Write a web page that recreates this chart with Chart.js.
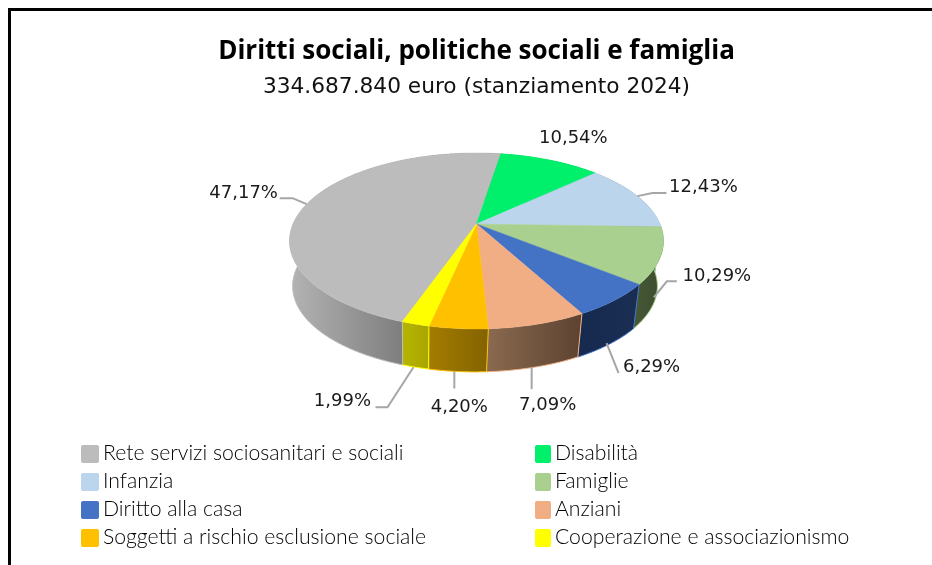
<!DOCTYPE html>
<html>
<head>
<meta charset="utf-8">
<script src="https://cdn.jsdelivr.net/npm/chart.js@4/dist/chart.umd.min.js"></script>
<style>
  html, body { margin: 0; padding: 0; background: #fff; overflow: hidden; }
  #wrap { position: relative; width: 932px; height: 565px; }
  #frame { position: absolute; left: 8px; top: 8px; right: -5px; bottom: -5px; border-left: 3px solid #000; border-top: 3px solid #000; }
  #pie-canvas { position: absolute; left: 0; top: 0; }
  #legend { position: absolute; left: 0; top: 0; font: 300 21.2px Lato, sans-serif; color: #000; }
  .item { position: absolute; white-space: nowrap; height: 18px; line-height: 14px; }
  .item i { position: absolute; left: 0; top: 0; height: 18px; border-radius: 2px; }
  .item span { position: absolute; top: 0; }
</style>
</head>
<body>
<div id="wrap">
  <div id="frame"></div>
  <canvas id="pie-canvas" width="932" height="565"></canvas>
  <div id="legend"></div>
</div>
<script>
var categories = ["Rete servizi sociosanitari e sociali", "Disabilità", "Infanzia", "Famiglie",
                  "Diritto alla casa", "Anziani", "Soggetti a rischio esclusione sociale", "Cooperazione e associazionismo"];
var shares = [47.17, 10.54, 12.43, 10.29, 6.29, 7.09, 4.20, 1.99];

var topColors = ["#BCBCBC", "#00F06C", "#BBD5EC", "#A9D08E", "#4472C4", "#F1AE84", "#FFC000", "#FFFF00"];
var wallLeft  = ["#B2B2B2", "#009040", "#708090", "#465836", "#16294E", "#8A6A50", "#A47C00", "#B6B400"];
var wallRight = ["#7E7E7E", "#009040", "#708090", "#3E4F30", "#1A2E54", "#5E4431", "#846400", "#A8A600"];

// slice label placement, relative to the rim point of each slice
var labelOffsets = [[-63,-11], [23,-22], [66,-9], [62,-24], [42,23], [13,38], [2,36], [-73,34]];
var leaderPaths = [
  [[0,0],[-14,-6],[-27,-6]],
  null,
  [[0,0],[15,-3],[29,-3]],
  [[-1,-3],[12,-19],[22,-19]],
  [[-3,-1],[9,29]],
  [[-3,0],[-3,22]],
  [[-3,0],[-3,17]],
  [[-2,0],[-28,40],[-40,40]]
];

// perspective of the tilted disc
var persp = 0.193, scaleX = 1.489, scaleY = 0.687, baseShrink = 0.975, baseDrop = 45.6, baseShift = -1.5;

function project(arc, angle, isBase) {
  var u = Math.cos(angle), v = Math.sin(angle), w = 1 / (1 - persp * v);
  var k = isBase ? baseShrink : 1;
  return {
    x: arc.x + (isBase ? baseShift : 0) + arc.outerRadius * scaleX * k * u * w,
    y: arc.y + (isBase ? baseDrop : 0) + arc.outerRadius * scaleY * k * v * w
  };
}

function rimPoints(arc, isBase) {
  var pts = [], n = Math.max(2, Math.ceil((arc.endAngle - arc.startAngle) / 0.01));
  for (var i = 0; i <= n; i++) {
    pts.push(project(arc, arc.startAngle + (arc.endAngle - arc.startAngle) * i / n, isBase));
  }
  return pts;
}

var pie3d = {
  id: "pie3d",
  beforeDatasetsDraw: function(chart) {
    var ctx = chart.ctx, arcs = chart.getDatasetMeta(0).data;
    ctx.save();
    // side wall first, the top face covers what is behind
    arcs.forEach(function(arc, i) {
      var topRim = rimPoints(arc, false), baseRim = rimPoints(arc, true);
      var seen = baseRim.filter(function(p) { return p.y > arc.y + baseDrop + 10; });
      var xs = (seen.length ? seen : baseRim).map(function(p) { return p.x; });
      var grad = ctx.createLinearGradient(Math.min.apply(null, xs), 0, Math.max.apply(null, xs), 0);
      grad.addColorStop(0, wallLeft[i]);
      grad.addColorStop(1, wallRight[i]);
      ctx.beginPath();
      topRim.forEach(function(p, j) { j ? ctx.lineTo(p.x, p.y) : ctx.moveTo(p.x, p.y); });
      baseRim.reverse().forEach(function(p) { ctx.lineTo(p.x, p.y); });
      ctx.closePath();
      ctx.fillStyle = grad;
      ctx.fill();
    });
    arcs.forEach(function(arc, i) {
      var baseRim = rimPoints(arc, true), s = project(arc, arc.startAngle, false), b = baseRim[0];
      ctx.strokeStyle = topColors[i];
      ctx.lineWidth = 1;
      ctx.beginPath();
      ctx.moveTo(s.x, s.y);
      ctx.lineTo(b.x, b.y);
      baseRim.forEach(function(p) { ctx.lineTo(p.x, p.y); });
      ctx.stroke();
    });
    arcs.forEach(function(arc, i) {
      ctx.beginPath();
      ctx.moveTo(arc.x, arc.y);
      rimPoints(arc, false).forEach(function(p) { ctx.lineTo(p.x, p.y); });
      ctx.closePath();
      ctx.fillStyle = topColors[i];
      ctx.strokeStyle = topColors[i];
      ctx.lineWidth = 0.5;
      ctx.fill();
      ctx.stroke();
    });
    ctx.restore();
    return false;
  },
  afterDraw: function(chart) {
    var ctx = chart.ctx, arcs = chart.getDatasetMeta(0).data;
    ctx.save();
    ctx.font = "18px 'DejaVu Sans'";
    ctx.textAlign = "center";
    ctx.textBaseline = "middle";
    arcs.forEach(function(arc, i) {
      var mid = (arc.startAngle + arc.endAngle) / 2;
      var front = Math.sin(mid) > 0;
      var rim = project(arc, mid, front);
      if (leaderPaths[i]) {
        ctx.strokeStyle = "#A6A6A6";
        ctx.lineWidth = 2;
        ctx.beginPath();
        leaderPaths[i].forEach(function(o, j) {
          j ? ctx.lineTo(rim.x + o[0], rim.y + o[1]) : ctx.moveTo(rim.x + o[0], rim.y + o[1]);
        });
        ctx.stroke();
      }
      ctx.fillStyle = "#1a1a1a";
      ctx.fillText(shares[i].toFixed(2).replace(".", ",") + "%", rim.x + labelOffsets[i][0], rim.y + labelOffsets[i][1]);
    });
    ctx.restore();
  }
};

var chart = new Chart(document.getElementById("pie-canvas"), {
  type: "pie",
  data: {
    labels: categories,
    datasets: [{ data: shares, backgroundColor: topColors, borderWidth: 0 }]
  },
  options: {
    responsive: false,
    animation: false,
    rotation: 199.3,
    layout: { padding: { left: 21, bottom: 217.75 } },
    plugins: {
      legend: { display: false },
      tooltip: { enabled: false },
      title: {
        display: true,
        text: "Diritti sociali, politiche sociali e famiglia",
        color: "#000",
        font: { family: "'Open Sans'", size: 26, weight: "bold", lineHeight: 1.2 },
        padding: { top: 36.4, bottom: 0 }
      },
      subtitle: {
        display: true,
        text: "334.687.840 euro (stanziamento 2024)",
        color: "#111",
        font: { family: "'DejaVu Sans'", size: 21.7, weight: "normal", lineHeight: 1.25 },
        padding: { top: 6, bottom: 0 }
      }
    }
  },
  plugins: [pie3d]
});

// two column legend under the pie
var legendBox = document.getElementById("legend");
categories.forEach(function(name, i) {
  var right = i % 2 == 1;
  var row = document.createElement("div");
  row.className = "item";
  row.style.left = (right ? 535 : 81) + "px";
  row.style.top = (445 + 28 * Math.floor(i / 2)) + "px";
  row.innerHTML = '<i style="background:' + topColors[i] + ';width:' + (right ? 16 : 18) + 'px"></i>' +
                  '<span style="left:' + (right ? 20 : 22) + 'px">' + name + '</span>';
  legendBox.appendChild(row);
});
</script>
</body>
</html>
